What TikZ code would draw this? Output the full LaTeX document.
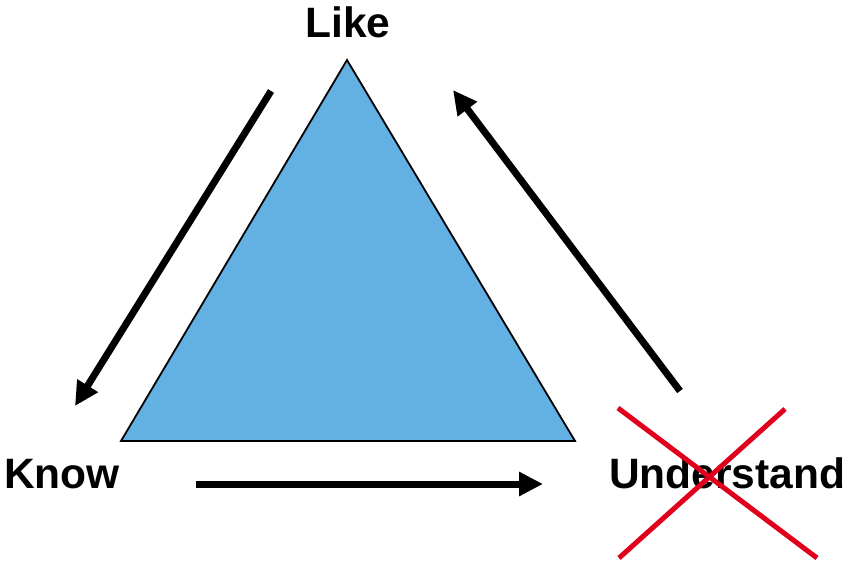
\documentclass[tikz,border=0pt]{standalone}
\usepackage{fontspec}
\setmainfont{Liberation Sans}
\usetikzlibrary{arrows.meta}
\definecolor{triblue}{HTML}{63B0E3}
\definecolor{xred}{HTML}{E0001B}
\begin{document}
\begin{tikzpicture}[x=1pt,y=-1pt,
  lbl/.style={inner sep=0pt,anchor=base west,font=\bfseries\fontsize{42.5}{42.5}\selectfont},
  bigarrow/.style={line width=7pt,-{Triangle[length=24pt,width=23pt]}},
  cross/.style={xred,line width=5pt}]
\useasboundingbox (0,0) rectangle (846,563);
% triangle
\coordinate (apex) at (347,60);
\coordinate (bl) at (121,441);
\coordinate (br) at (575,441);
\filldraw[fill=triblue,draw=black,line width=1.8pt,line join=miter] (apex) -- (bl) -- (br) -- cycle;
% labels
\node[lbl,anchor=base] (like) at (348,37) {Like};
\node[lbl] (know) at (4,488) {Know};
\node[lbl] (und) at (609,488) {Understand};
% arrows
\coordinate (a1s) at (271,91);
\coordinate (a1e) at (75,406);
\coordinate (a2s) at (196,484);
\coordinate (a2e) at (543,484);
\coordinate (a3s) at (680,391);
\coordinate (a3e) at (453,90);
\draw[bigarrow] (a1s) -- (a1e);
\draw[bigarrow] (a2s) -- (a2e);
\draw[bigarrow] (a3s) -- (a3e);
% red cross
\coordinate (x1) at (618,408);
\coordinate (x2) at (817,558);
\coordinate (x3) at (785,409);
\coordinate (x4) at (619,558);
\draw[cross] (x1) -- (x2);
\draw[cross] (x3) -- (x4);
\end{tikzpicture}
\end{document}
